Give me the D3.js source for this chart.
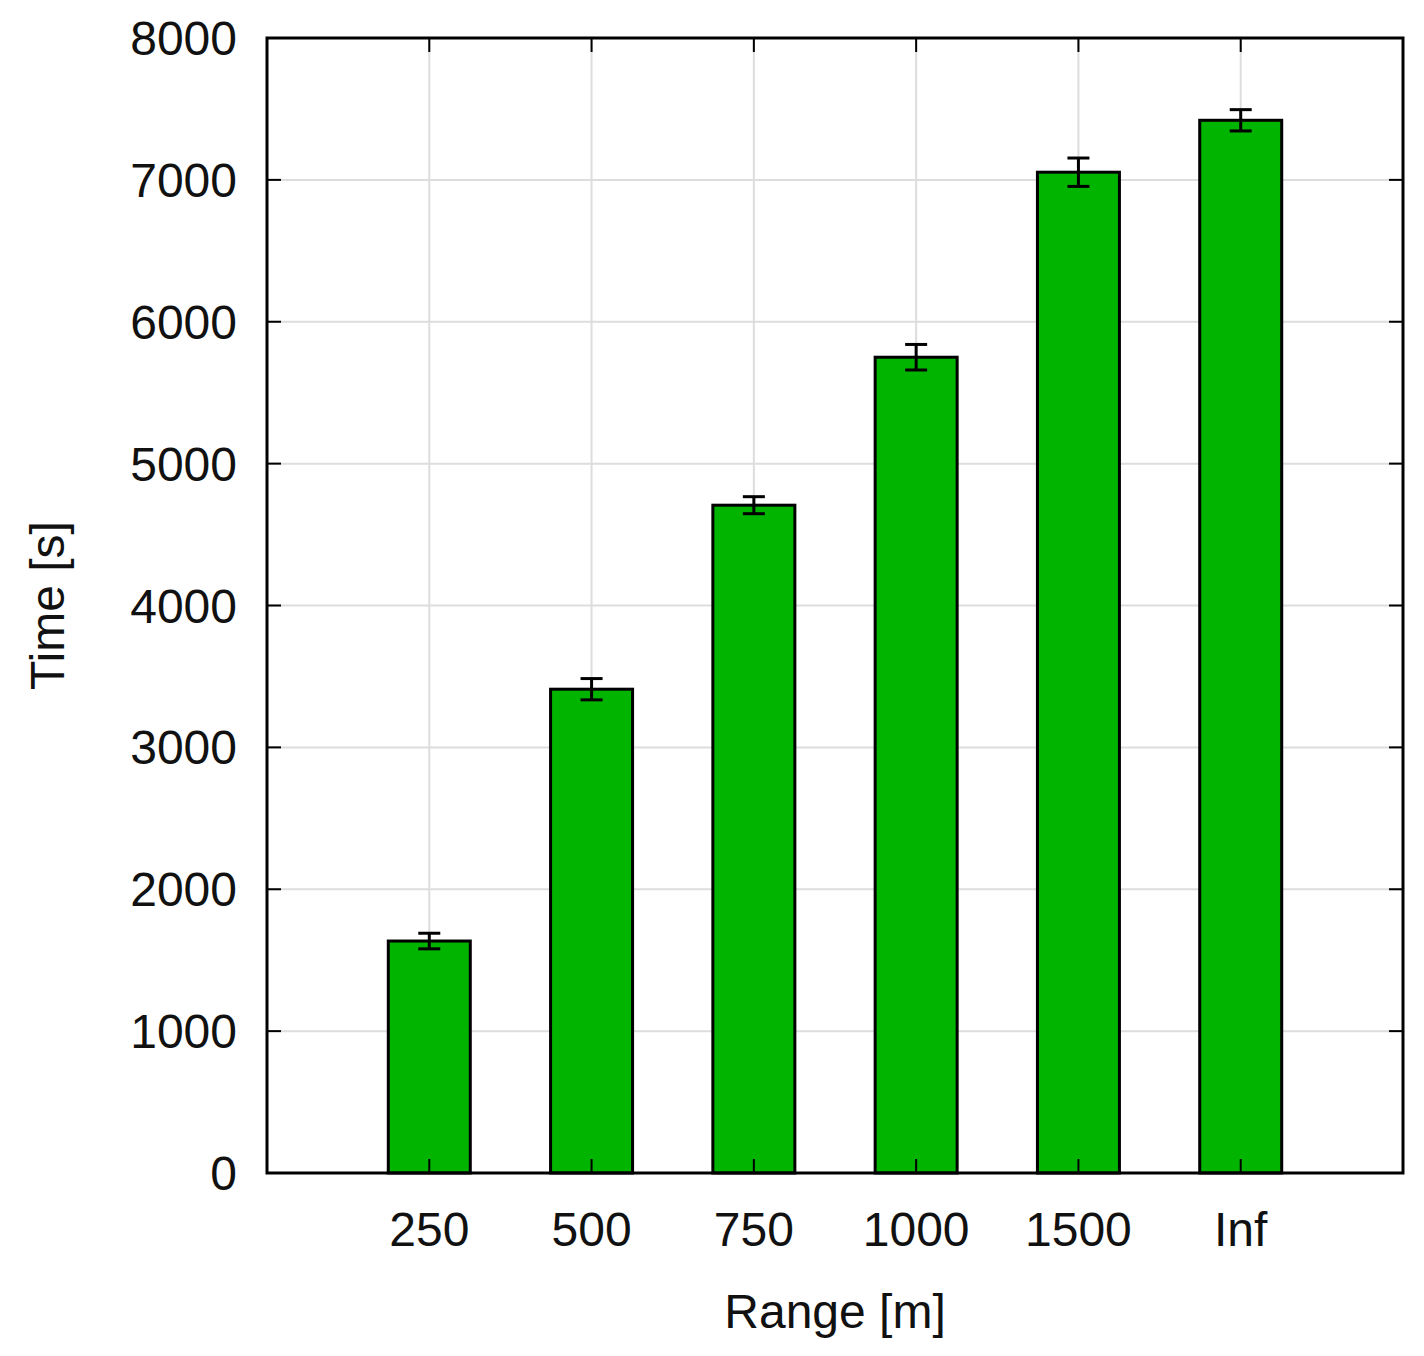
<!DOCTYPE html>
<html><head><meta charset="utf-8">
<script src="https://cdn.jsdelivr.net/npm/d3@7"></script>
<style>body{margin:0;background:#fff}text{font-family:"Liberation Sans",Arial,sans-serif;fill:#111}</style>
</head><body>
<svg id="c" width="1424" height="1356"></svg>
<script>
// data
var categories = ["250","500","750","1000","1500","Inf"];
var times = [1635,3410,4707,5750,7054,7420];
var errors = [55,75,60,90,100,75];
var yTicks = [0,1000,2000,3000,4000,5000,6000,7000,8000];

var svg = d3.select("#c");
var L=267,R=1403,T=38,B=1173;
var x = d3.scaleLinear().domain([0,categories.length+1]).range([L,R]);
var y = d3.scaleLinear().domain([0,8000]).range([B,T]);
var bw = 82;

// grid
svg.selectAll(".hg").data(yTicks).enter().append("line")
  .attr("x1",L).attr("x2",R).attr("y1",d=>y(d)).attr("y2",d=>y(d))
  .attr("stroke","#ddd").attr("stroke-width",2);
svg.selectAll(".vg").data(categories).enter().append("line")
  .attr("x1",(d,i)=>x(i+1)).attr("x2",(d,i)=>x(i+1)).attr("y1",T).attr("y2",B)
  .attr("stroke","#ddd").attr("stroke-width",2);

// bars
svg.selectAll(".bar").data(times).enter().append("rect")
  .attr("x",(d,i)=>x(i+1)-bw/2).attr("width",bw)
  .attr("y",d=>y(d)).attr("height",d=>B-y(d))
  .attr("fill","#00b400").attr("stroke","#000").attr("stroke-width",3);

// error bars
var eb = svg.selectAll(".eb").data(times).enter().append("g").attr("stroke","#000").attr("stroke-width",3);
eb.append("line").attr("x1",(d,i)=>x(i+1)).attr("x2",(d,i)=>x(i+1))
  .attr("y1",(d,i)=>y(d-errors[i])).attr("y2",(d,i)=>y(d+errors[i]));
eb.append("line").attr("x1",(d,i)=>x(i+1)-11).attr("x2",(d,i)=>x(i+1)+11)
  .attr("y1",(d,i)=>y(d-errors[i])).attr("y2",(d,i)=>y(d-errors[i]));
eb.append("line").attr("x1",(d,i)=>x(i+1)-11).attr("x2",(d,i)=>x(i+1)+11)
  .attr("y1",(d,i)=>y(d+errors[i])).attr("y2",(d,i)=>y(d+errors[i]));

// frame
svg.append("rect").attr("x",L).attr("y",T).attr("width",R-L).attr("height",B-T)
  .attr("fill","none").attr("stroke","#000").attr("stroke-width",3);

// y ticks (inside, both sides)
var yt = svg.selectAll(".yt").data(yTicks).enter().append("g");
yt.append("line").attr("x1",L).attr("x2",L+14).attr("y1",d=>y(d)).attr("y2",d=>y(d)).attr("stroke","#000").attr("stroke-width",2);
yt.append("line").attr("x1",R).attr("x2",R-14).attr("y1",d=>y(d)).attr("y2",d=>y(d)).attr("stroke","#000").attr("stroke-width",2);
yt.append("text").attr("x",L-30).attr("y",d=>y(d)+17).attr("text-anchor","end")
  .attr("font-size",48).text(d=>d);

// x ticks
var xt = svg.selectAll(".xt").data(categories).enter().append("g");
xt.append("line").attr("x1",(d,i)=>x(i+1)).attr("x2",(d,i)=>x(i+1)).attr("y1",B).attr("y2",B-14).attr("stroke","#000").attr("stroke-width",2);
xt.append("line").attr("x1",(d,i)=>x(i+1)).attr("x2",(d,i)=>x(i+1)).attr("y1",T).attr("y2",T+14).attr("stroke","#000").attr("stroke-width",2);
xt.append("text").attr("x",(d,i)=>x(i+1)).attr("y",1246).attr("text-anchor","middle")
  .attr("font-size",48).text(d=>d);

// axis labels
svg.append("text").attr("x",(L+R)/2).attr("y",1328).attr("text-anchor","middle").attr("font-size",48).text("Range [m]");
svg.append("text").attr("transform","translate(64,"+((T+B)/2)+") rotate(-90)").attr("text-anchor","middle").attr("font-size",48).text("Time [s]");
</script>
</body></html>
